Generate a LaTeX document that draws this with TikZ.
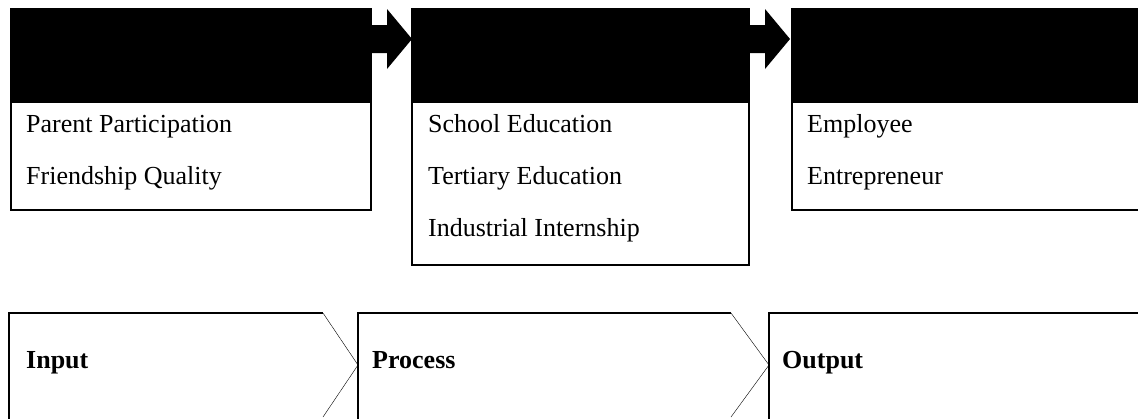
\documentclass[tikz,border=0pt]{standalone}
\usepackage{fontspec}
\setmainfont{Liberation Serif}
\begin{document}
\begin{tikzpicture}[x=1pt, y=-1pt, line join=miter, font=\fontsize{26}{31}\selectfont,
  boxline/.style={line width=2.2pt},
  item/.style={anchor=base west, inner sep=0pt},
  stage/.style={anchor=base west, inner sep=0pt, font=\fontsize{26}{31}\selectfont\bfseries}]
\def\top{9} \def\hd{103} \def\base{313} \def\tipy{365}
\useasboundingbox (0,0) rectangle (1138,418);
\clip (0,0) rectangle (1138,418);
% top boxes with black headers
\draw[boxline] (11,\top) rectangle (371,210);
\draw[boxline] (412,\top) rectangle (749,265);
\draw[boxline] (792,\top) rectangle (1150,210);
\fill (10,\top) rectangle (372,\hd);
\fill (411,\top) rectangle (750,\hd);
\fill (791,\top) rectangle (1150,\hd);
% block arrows
\foreach \x in {372,750}
  \fill (\x,25) -- ++(15,0) -- ++(0,-16) -- ++(25,30) -- ++(-25,30) -- ++(0,-16) -- ++(-15,0) -- cycle;
% items
\node[item] (pp) at (26,132) {Parent Participation};
\node[item] (fq) at (26,184) {Friendship Quality};
\node[item] (se) at (428,132) {School Education};
\node[item] (te) at (428,184) {Tertiary Education};
\node[item] (ii) at (428,236) {Industrial Internship};
\node[item] (em) at (807,132) {Employee};
\node[item] (en) at (807,184) {Entrepreneur};
% bottom chevrons
\draw[boxline] (9,430) -- (9,\base) -- (323,\base);
\draw (323,\base) -- (358,\tipy) -- (323,417);
\draw[boxline] (358,430) -- (358,\base) -- (731,\base);
\draw (731,\base) -- (769,\tipy) -- (731,417);
\draw[boxline] (769,430) -- (769,\base) -- (1150,\base);
\node[stage] (in) at (26,368) {Input};
\node[stage] (pr) at (372,368) {Process};
\node[stage] (out) at (782,368) {Output};
\end{tikzpicture}
\end{document}
